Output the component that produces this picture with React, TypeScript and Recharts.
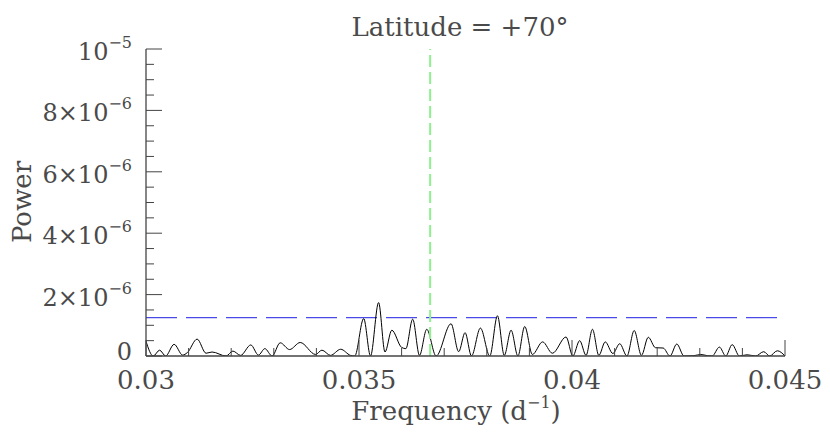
import React from 'react';
import { LineChart, Line, XAxis, YAxis, ReferenceLine } from 'recharts';

// periodogram, frequency in d^-1, power in units of 1e-6
const frequency = [
    0.03, 0.03017, 0.03032, 0.03046, 0.03066, 0.03086, 0.03097, 0.0312, 0.03141, 0.03155,
    0.03188, 0.03204, 0.03222, 0.03246, 0.03264, 0.03279, 0.03296, 0.03315, 0.03337, 0.03362,
    0.03398, 0.03413, 0.03433, 0.03457, 0.0348, 0.0349, 0.03511, 0.03527, 0.03546, 0.03561,
    0.03577, 0.036, 0.0361, 0.03626, 0.03642, 0.03659, 0.03681, 0.03716, 0.03734, 0.03749,
    0.03764, 0.03785, 0.03807, 0.03825, 0.03841, 0.03857, 0.03873, 0.03889, 0.03907, 0.03931,
    0.03954, 0.03986, 0.04002, 0.04018, 0.04033, 0.04048, 0.04063, 0.04078, 0.04096, 0.04112,
    0.04129, 0.04146, 0.04163, 0.04179, 0.04196, 0.04214, 0.0423, 0.04246, 0.04263, 0.04286,
    0.04302, 0.04318, 0.04329, 0.04346, 0.04361, 0.04376, 0.04393, 0.04411, 0.04431, 0.0445,
    0.04464, 0.04482, 0.045,
];
const power = [
    0.48, 0.0, 0.19, 0.0, 0.38, 0.03, 0.11, 0.55, 0.09, 0.13,
    0.0, 0.16, 0.02, 0.36, 0.03, 0.24, 0.0, 0.43, 0.21, 0.44,
    0.05, 0.19, 0.02, 0.22, 0.02, 0.0, 1.22, 0.0, 1.74, 0.13,
    0.84, 0.28, 0.24, 1.2, 0.02, 0.87, 0.0, 1.05, 0.14, 0.76,
    0.0, 0.91, 0.0, 1.31, 0.02, 0.84, 0.0, 0.96, 0.05, 0.46,
    0.09, 0.62, 0.0, 0.5, 0.02, 0.87, 0.02, 0.46, 0.08, 0.4,
    0.0, 0.83, 0.02, 0.61, 0.27, 0.26, 0.0, 0.39, 0.0, 0.01,
    0.05, 0.01, 0.0, 0.29, 0.0, 0.37, 0.0, 0.04, 0.0, 0.14,
    0.0, 0.17, 0.0,
];

const threshold = 1.25;
const markerFrequency = 0.03667;

const xTicks = [0.03, 0.031, 0.032, 0.033, 0.034, 0.035, 0.036, 0.037, 0.038, 0.039, 0.04, 0.041, 0.042, 0.043, 0.044, 0.045];
const xMajor = [0.03, 0.035, 0.04, 0.045];
const xMajorLabels = ['0.03', '0.035', '0.04', '0.045'];
const yTicks = [0, 0.5, 1, 1.5, 2, 2.5, 3, 3.5, 4, 4.5, 5, 5.5, 6, 6.5, 7, 7.5, 8, 8.5, 9, 9.5, 10];
const yMajor = [0, 2, 4, 6, 8, 10];
const yMantissa = ['0', '2×10', '4×10', '6×10', '8×10', '10'];
const yExponent = ['', '−6', '−6', '−6', '−6', '−5'];

const data = frequency.map((f, i) => ({ f, p: power[i] }));

const FONT = '"DejaVu Serif", serif';
const INK = '#4a4a4a';
const FRAME = '#444';
const MAJOR = 16;
const MINOR = 8;

const majorIndex = (list: number[], v: number) => list.findIndex((m) => Math.abs(m - v) < 1e-9);

const BottomTick = (props: any) => {
    const { x, y, payload } = props;
    const i = majorIndex(xMajor, payload.value);
    return (
        <g>
            <line x1={x} x2={x} y1={y} y2={y - (i >= 0 ? MAJOR : MINOR)} stroke={FRAME} strokeWidth={1} />
            {i >= 0 && (
                <text x={x} y={y + 33} textAnchor="middle" fontFamily={FONT} fontSize={26} fill={INK}>
                    {xMajorLabels[i]}
                </text>
            )}
        </g>
    );
};

const TopTick = (props: any) => {
    const { x, y, payload } = props;
    const i = majorIndex(xMajor, payload.value);
    return <line x1={x} x2={x} y1={y} y2={y + (i >= 0 ? MAJOR : MINOR)} stroke={FRAME} strokeWidth={1} />;
};

const LeftTick = (props: any) => {
    const { x, y, payload } = props;
    const i = majorIndex(yMajor, payload.value);
    return (
        <g>
            <line x1={x} x2={x + (i >= 0 ? MAJOR : MINOR)} y1={y} y2={y} stroke={FRAME} strokeWidth={1} />
            {i >= 0 && (
                <text x={x - 14} y={y + (yExponent[i] ? 11 : 4)} textAnchor="end" fontFamily={FONT} fontSize={24} fill={INK}>
                    {yMantissa[i]}
                    {yExponent[i] && (
                        <tspan dy={-12} fontSize={16}>
                            {yExponent[i]}
                        </tspan>
                    )}
                </text>
            )}
        </g>
    );
};

const RightTick = (props: any) => {
    const { x, y, payload } = props;
    const i = majorIndex(yMajor, payload.value);
    return <line x1={x} x2={x - (i >= 0 ? MAJOR : MINOR)} y1={y} y2={y} stroke={FRAME} strokeWidth={1} />;
};

const App: React.FC = () => {
    return (
        <div style={{ position: 'absolute', left: 0, top: 0, width: 830, height: 446, background: '#fff' }}>
            <LineChart width={830} height={446} data={data} margin={{ top: 49, right: 45, bottom: 0, left: 0 }}>
                <XAxis
                    dataKey="f"
                    type="number"
                    domain={[0.03, 0.045]}
                    ticks={xTicks}
                    height={90}
                    tickSize={0}
                    tickMargin={0}
                    tick={<BottomTick />}
                    axisLine={{ stroke: FRAME, strokeWidth: 1.3 }}
                    interval={0}
                    allowDataOverflow
                />
                <XAxis
                    xAxisId="top"
                    orientation="top"
                    dataKey="f"
                    type="number"
                    domain={[0.03, 0.045]}
                    ticks={xTicks}
                    height={0}
                    tickSize={0}
                    tickMargin={0}
                    tick={<TopTick />}
                    axisLine={{ stroke: FRAME, strokeWidth: 1.3 }}
                    interval={0}
                    allowDataOverflow
                />
                <YAxis
                    type="number"
                    domain={[0, 10]}
                    ticks={yTicks}
                    width={146}
                    tickSize={0}
                    tickMargin={0}
                    tick={<LeftTick />}
                    axisLine={{ stroke: FRAME, strokeWidth: 1.3 }}
                    interval={0}
                    allowDataOverflow
                />
                <YAxis
                    yAxisId="right"
                    orientation="right"
                    type="number"
                    domain={[0, 10]}
                    ticks={yTicks}
                    width={0}
                    tickSize={0}
                    tickMargin={0}
                    tick={<RightTick />}
                    axisLine={{ stroke: FRAME, strokeWidth: 1.3 }}
                    interval={0}
                    allowDataOverflow
                />
                <ReferenceLine y={threshold} stroke="#4a4ae8" strokeWidth={1.2} strokeDasharray="31 9" />
                <Line
                    type="monotone"
                    dataKey="p"
                    stroke="#000"
                    strokeWidth={1}
                    dot={false}
                    isAnimationActive={false}
                />
                <ReferenceLine x={markerFrequency} stroke="#8ef08e" strokeWidth={2} strokeDasharray="12 5" />
            </LineChart>
            <svg width={830} height={446} style={{ position: 'absolute', left: 0, top: 0, pointerEvents: 'none' }}>
                <text x={460} y={36} textAnchor="middle" fontFamily={FONT} fontSize={26} fill={INK}>
                    Latitude = +70°
                </text>
                <text transform="translate(31 202) rotate(-90)" textAnchor="middle" fontFamily={FONT} fontSize={26} fill={INK}>
                    Power
                </text>
                <text x={456} y={420} textAnchor="middle" fontFamily={FONT} fontSize={26} fill={INK}>
                    Frequency (d
                    <tspan dy={-12} fontSize={16}>−1</tspan>
                    <tspan dy={12}>)</tspan>
                </text>
            </svg>
        </div>
    );
};

export default App;
